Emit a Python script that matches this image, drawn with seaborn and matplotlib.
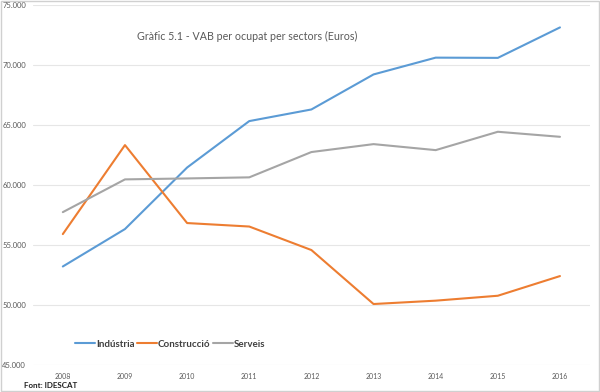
import pandas as pd
import numpy as np
import seaborn as sns
import matplotlib.pyplot as plt
from matplotlib.ticker import FuncFormatter
from matplotlib.patches import Rectangle

years = [2008, 2009, 2010, 2011, 2012, 2013, 2014, 2015, 2016]
industria = [53190, 56310, 61440, 65310, 66280, 69200, 70600, 70580, 73120]
construccio = [55890, 63310, 56810, 56520, 54560, 50060, 50340, 50750, 52390]
serveis = [57720, 60450, 60530, 60620, 62730, 63390, 62890, 64420, 64000]
sectors = ['Indústria', 'Construcció', 'Serveis']
colors = ['#5B9BD5', '#ED7D31', '#A5A5A5']

df = pd.DataFrame({
    'any': years * 3,
    'VAB': industria + construccio + serveis,
    'sector': np.repeat(sectors, len(years)),
})

sns.set_style('white')
plt.rcParams['font.family'] = ['Lato', 'DejaVu Sans']

fig = plt.figure(figsize=(6, 3.92), dpi=100)
ax = fig.add_axes([0.055, 0.0696, 0.928, 0.918])

sns.lineplot(data=df, x='any', y='VAB', hue='sector', palette=colors,
             linewidth=1.5, ax=ax, legend=True)

ax.set_xlim(2007.52, 2016.48)
ax.set_ylim(45000, 75000)
ax.set_xticks(years)
ax.set_yticks(range(45000, 75001, 5000))
ax.yaxis.set_major_formatter(FuncFormatter(lambda v, p: f'{int(v):,}'.replace(',', '.')))
ax.grid(axis='y', color='#E6E6E6', linewidth=0.8)
ax.set_axisbelow(True)
for s in ax.spines.values():
    s.set_visible(False)
ax.tick_params(axis='y', labelsize=5.5, colors='#595959', length=0, pad=5)
ax.tick_params(axis='x', labelsize=5, colors='#595959', length=0, pad=6)
ax.set_xlabel('')
ax.set_ylabel('')

ax.legend(loc='center left', bbox_to_anchor=(0.06, 0.057), ncol=3, frameon=False,
          handlelength=2.0, handletextpad=0.15, columnspacing=0.25,
          prop={'size': 7, 'weight': 'bold'}, labelcolor='#404040')

fig.text(0.228, 0.906, 'Gràfic 5.1 - VAB per ocupat per sectors (Euros)',
         fontsize=7.7, color='#595959', va='center')
fig.text(0.04, 0.016, 'Font: IDESCAT', fontsize=5.8, color='#202020',
         fontweight='bold', va='center')

fig.patches.append(Rectangle((0.001, 0.002), 0.997, 0.996, transform=fig.transFigure,
                             fill=False, edgecolor='#D0D0D0', linewidth=1))

fig.savefig('out.png', dpi=100)
